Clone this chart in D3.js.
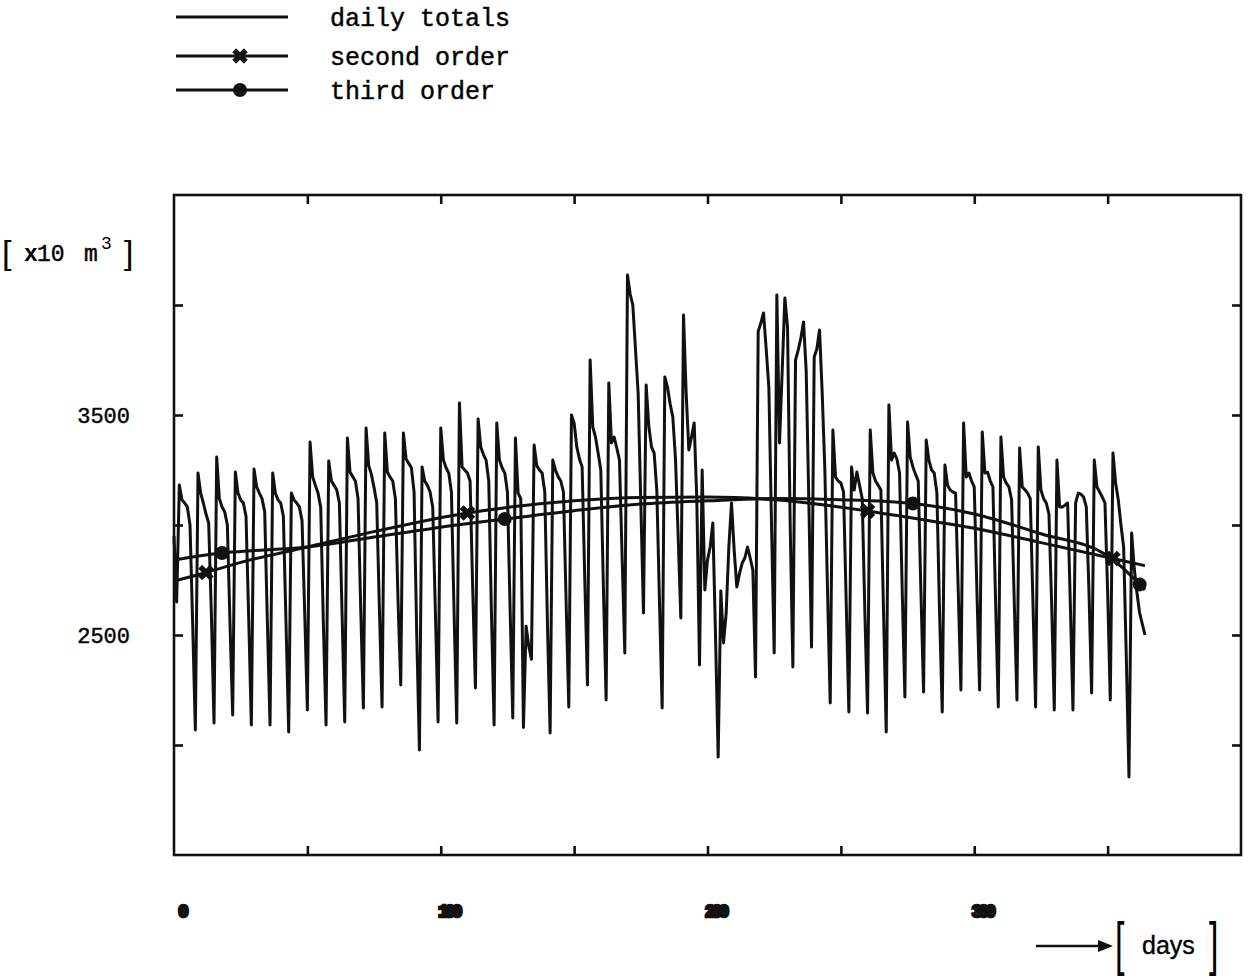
<!DOCTYPE html>
<html>
<head>
<meta charset="utf-8">
<script src="https://cdn.jsdelivr.net/npm/d3@7"></script>
<style>
  body { margin: 0; background: #fff; }
  text { fill: #000; }
</style>
</head>
<body>
<script>
// daily totals, day 0 .. 364 (one week per row from day 2)
var dailyTotals = [
  2950, 2650,
  3182, 3114, 3100, 3082, 3000, 2550, 2068,
  3236, 3145, 3100, 3050, 3009, 2600, 2100,
  3309, 3120, 3082, 3060, 3000, 2550, 2136,
  3241, 3145, 3114, 3100, 3040, 2580, 2091,
  3254, 3173, 3145, 3120, 3060, 2560, 2091,
  3236, 3145, 3114, 3100, 3040, 2550, 2059,
  3145, 3114, 3100, 3082, 3020, 2600, 2159,
  3377, 3218, 3180, 3145, 3080, 2550, 2091,
  3291, 3200, 3180, 3160, 3100, 2600, 2105,
  3395, 3240, 3220, 3200, 3120, 2620, 2168,
  3441, 3270, 3230, 3170, 3100, 2620, 2173,
  3418, 3240, 3218, 3200, 3120, 2650, 2273,
  3418, 3300, 3280, 3260, 3150, 2500, 1977,
  3264, 3200, 3180, 3150, 3080, 2600, 2105,
  3441, 3295, 3260, 3236, 3150, 2600, 2100,
  3555, 3264, 3250, 3236, 3200, 2700, 2259,
  3482, 3355, 3320, 3295, 3200, 2600, 2091,
  3464, 3295, 3260, 3236, 3150, 2620, 2123,
  3395, 3145, 3120, 2080, 2540, 2450, 2390,
  3364, 3270, 3250, 3236, 3150, 2550, 2055,
  3295, 3250, 3220, 3200, 3150, 2650, 2173,
  3500, 3464, 3355, 3300, 3264, 2750, 2273,
  3750, 3445, 3400, 3327, 3250, 2700, 2205,
  3645, 3373, 3400, 3350, 3295, 2850, 2418,
  4136, 4050, 4000, 3800, 3600, 3100, 2600,
  3636, 3450, 3355, 3327, 3159, 2650, 2168,
  3673, 3627, 3550, 3491, 3300, 2950, 2577,
  3955, 3600, 3341, 3400, 3464, 3114, 2364,
  3250, 2705, 2841, 2900, 3009, 2500, 1945,
  2700, 2464, 2600, 2900, 3100, 2886, 2718,
  2780, 2827, 2850, 2900, 2850, 2795, 2309,
  3880, 3918, 3964, 3800, 3627, 3000, 2418,
  4045, 3373, 3700, 4032, 3900, 3000, 2355,
  3750, 3795, 3850, 3923, 3700, 3100, 2445,
  3764, 3800, 3886, 3600, 3250, 2700, 2191,
  3432, 3218, 3200, 3191, 3150, 2650, 2150,
  3264, 3159, 3241, 3180, 3120, 2600, 2145,
  3432, 3236, 3200, 3180, 3159, 2600, 2059,
  3545, 3295, 3327, 3300, 3236, 2700, 2218,
  3468, 3309, 3264, 3230, 3200, 2700, 2241,
  3386, 3295, 3250, 3236, 3145, 2600, 2150,
  3273, 3180, 3159, 3150, 3145, 2700, 2250,
  3464, 3218, 3236, 3200, 3173, 2700, 2250,
  3423, 3236, 3240, 3200, 3173, 2650, 2173,
  3400, 3218, 3190, 3173, 3114, 2650, 2205,
  3350, 3173, 3160, 3145, 3120, 2650, 2173,
  3355, 3159, 3120, 3100, 3050, 2650, 2159,
  3295, 3082, 3082, 3090, 3100, 2650, 2159,
  3100, 3145, 3140, 3127, 3082, 2700, 2236,
  3295, 3173, 3150, 3127, 3100, 2700, 2205,
  3327, 3191, 3114, 3000, 2900, 2400, 1855,
  2964, 2800, 2691, 2600, 2550, 2500
];

// fitted trends, sampled off the plot
var secondDays   = [0, 12, 25, 50, 75, 110, 125, 150, 175, 200, 225, 260, 275, 300, 325, 352, 364];
var secondValues = [2745, 2784, 2830, 2900, 2970, 3055, 3080, 3110, 3125, 3127, 3115, 3064, 3035, 2985, 2920, 2848, 2815];
var secondMarks  = [12, 110, 260, 352];

var thirdDays   = [0, 18, 25, 50, 75, 100, 124, 150, 175, 200, 225, 250, 277, 300, 325, 350, 362, 364];
var thirdValues = [2841, 2873, 2880, 2900, 2945, 2990, 3027, 3065, 3095, 3110, 3120, 3115, 3098, 3050, 2960, 2860, 2730, 2705];
var thirdMarks  = [18, 124, 277, 362];

var yTickValues  = [2000, 2500, 3000, 3500, 4000];
var yLabelValues = [2500, 3500];
var xTickValues  = [50, 100, 150, 200, 250, 300, 350];
var xLabelValues = [0, 100, 200, 300];
var legendLabels = ["daily totals", "second order", "third order"];

var svg = d3.select("body")
  .append("svg")
    .attr("width", 1249)
    .attr("height", 979);

var x = d3.scaleLinear().domain([0, 400]).range([174, 1241]);
var y = d3.scaleLinear().domain([1500, 4500]).range([855, 195]);

var ink = "#111";

// frame
svg.append("rect")
    .attr("x", x(0))
    .attr("y", y(4500))
    .attr("width", x(400) - x(0))
    .attr("height", y(1500) - y(4500))
    .attr("fill", "none")
    .attr("stroke", ink)
    .attr("stroke-width", 2.6);

// inward ticks on all four sides
function ticksOnly(g) {
  g.select(".domain").remove();
  g.selectAll(".tick line").attr("stroke", ink).attr("stroke-width", 2.6);
}
svg.append("g").attr("transform", "translate(" + x(0) + ",0)")
    .call(d3.axisLeft(y).tickValues(yTickValues).tickSize(-9).tickFormat(""))
    .call(ticksOnly);
svg.append("g").attr("transform", "translate(" + x(400) + ",0)")
    .call(d3.axisRight(y).tickValues(yTickValues).tickSize(-9).tickFormat(""))
    .call(ticksOnly);
svg.append("g").attr("transform", "translate(0," + y(4500) + ")")
    .call(d3.axisTop(x).tickValues(xTickValues).tickSize(-9).tickFormat(""))
    .call(ticksOnly);
svg.append("g").attr("transform", "translate(0," + y(1500) + ")")
    .call(d3.axisBottom(x).tickValues(xTickValues).tickSize(-9).tickFormat(""))
    .call(ticksOnly);

// y labels
var yLab = svg.append("g").attr("transform", "translate(" + x(0) + ",0)")
    .call(d3.axisLeft(y).tickValues(yLabelValues).tickSize(0).tickPadding(44).tickFormat(d3.format("d")));
yLab.select(".domain").remove();
yLab.selectAll("text")
    .attr("font-family", "Liberation Mono, monospace")
    .attr("font-size", 22)
    .attr("stroke", ink)
    .attr("stroke-width", 0.5)
    .attr("fill", ink);

// x labels (printed very heavy in the original)
var xLab = svg.append("g").attr("transform", "translate(0," + y(1500) + ")")
    .call(d3.axisBottom(x).tickValues(xLabelValues).tickSize(0).tickPadding(49).tickFormat(d3.format("d")));
xLab.select(".domain").remove();
xLab.selectAll("text")
    .attr("text-anchor", "middle")
    .attr("dx", 7)
    .attr("font-family", "Liberation Mono, monospace")
    .attr("font-weight", "bold")
    .attr("font-size", 18)
    .attr("letter-spacing", -4)
    .attr("stroke", ink)
    .attr("stroke-width", 2.6)
    .attr("fill", ink);

// unit label
var unit = svg.append("g")
    .attr("font-family", "Liberation Mono, monospace")
    .attr("fill", ink);
unit.append("text").attr("x", 2).attr("y", 264).attr("font-size", 34).attr("font-family", "Liberation Sans, sans-serif").text("[");
unit.append("text").attr("x", 24).attr("y", 261).attr("font-size", 23).attr("font-weight", "bold").text("x");
unit.append("text").attr("x", 37).attr("y", 261).attr("font-size", 23).attr("stroke", ink).attr("stroke-width", 0.5).text("10");
unit.append("text").attr("x", 84).attr("y", 261).attr("font-size", 23).attr("stroke", ink).attr("stroke-width", 0.5).text("m");
unit.append("text").attr("x", 101).attr("y", 249).attr("font-size", 18).text("3");
unit.append("text").attr("x", 124).attr("y", 264).attr("font-size", 34).attr("font-family", "Liberation Sans, sans-serif").text("]");

// days label with arrow
svg.append("line")
    .attr("x1", 1036).attr("x2", 1102)
    .attr("y1", 946).attr("y2", 946)
    .attr("stroke", ink).attr("stroke-width", 2.6);
svg.append("path")
    .attr("d", "M1098,940 L1113,946 L1098,952 Z")
    .attr("fill", ink);
svg.append("text")
    .attr("transform", "translate(1115,964) scale(1,1.75)")
    .attr("font-family", "Liberation Sans, sans-serif")
    .attr("font-size", 34)
    .text("[");
svg.append("text")
    .attr("x", 1142).attr("y", 954)
    .attr("font-family", "Liberation Sans, sans-serif")
    .attr("font-size", 25)
    .attr("stroke", ink)
    .attr("stroke-width", 0.4)
    .text("days");
svg.append("text")
    .attr("transform", "translate(1209,964) scale(1,1.75)")
    .attr("font-family", "Liberation Sans, sans-serif")
    .attr("font-size", 34)
    .text("]");

// daily totals
var daily = dailyTotals.map(function(v, i) { return {day: i, value: v}; });
var line = d3.line()
    .x(function(d) { return x(d.day); })
    .y(function(d) { return y(d.value); });

svg.append("path")
    .datum(daily)
    .attr("d", line)
    .attr("fill", "none")
    .attr("stroke", ink)
    .attr("stroke-width", 3)
    .attr("stroke-linejoin", "round");

// trend curves
function trend(days, values) {
  return days.map(function(d, i) { return {day: d, value: values[i]}; });
}
var smooth = d3.line()
    .curve(d3.curveMonotoneX)
    .x(function(d) { return x(d.day); })
    .y(function(d) { return y(d.value); });

var second = trend(secondDays, secondValues);
var third = trend(thirdDays, thirdValues);

[second, third].forEach(function(s) {
  svg.append("path")
      .datum(s)
      .attr("d", smooth)
      .attr("fill", "none")
      .attr("stroke", ink)
      .attr("stroke-width", 3);
});

var cross = d3.symbol().type(d3.symbolCross).size(150);

svg.selectAll(".mark2")
    .data(second.filter(function(d) { return secondMarks.indexOf(d.day) >= 0; }))
  .enter().append("path")
    .attr("class", "mark2")
    .attr("d", cross)
    .attr("transform", function(d) { return "translate(" + x(d.day) + "," + y(d.value) + ") rotate(45)"; })
    .attr("fill", ink);

svg.selectAll(".mark3")
    .data(third.filter(function(d) { return thirdMarks.indexOf(d.day) >= 0; }))
  .enter().append("circle")
    .attr("class", "mark3")
    .attr("cx", function(d) { return x(d.day); })
    .attr("cy", function(d) { return y(d.value); })
    .attr("r", 7)
    .attr("fill", ink);

// legend
var legendY = [17, 56, 90];
var legend = svg.selectAll(".legend")
    .data(legendLabels)
  .enter().append("g")
    .attr("class", "legend")
    .attr("transform", function(d, i) { return "translate(0," + legendY[i] + ")"; });

legend.append("line")
    .attr("x1", 176).attr("x2", 288)
    .attr("stroke", ink)
    .attr("stroke-width", 3);

legend.append("text")
    .attr("x", 330)
    .attr("dy", "0.35em")
    .attr("font-family", "Liberation Mono, monospace")
    .attr("font-size", 25)
    .attr("stroke", ink)
    .attr("stroke-width", 0.5)
    .text(function(d) { return d; });

legend.filter(function(d, i) { return i === 1; })
  .append("path")
    .attr("d", cross)
    .attr("transform", "translate(240,0) rotate(45)")
    .attr("fill", ink);

legend.filter(function(d, i) { return i === 2; })
  .append("circle")
    .attr("cx", 240)
    .attr("r", 7)
    .attr("fill", ink);
</script>
</body>
</html>
